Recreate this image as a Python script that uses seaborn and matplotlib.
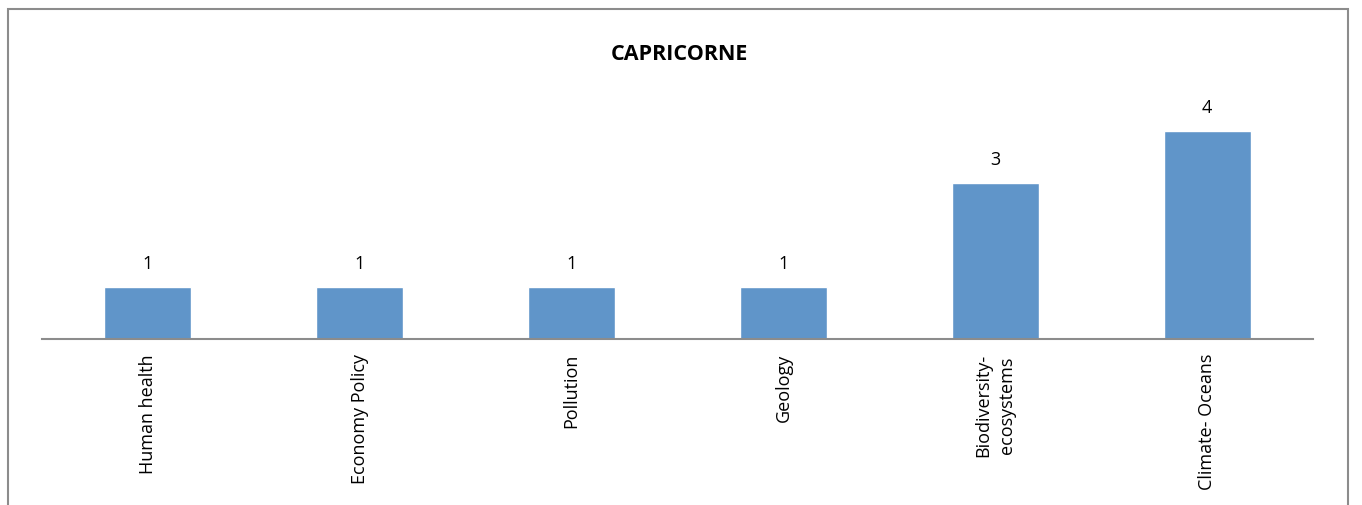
import matplotlib
matplotlib.use("Agg")
import matplotlib.pyplot as plt
import matplotlib.patches as mpatches
import pandas as pd
import seaborn as sns

# --------------------------- data ---------------------------
categories = ["Human health", "Economy Policy", "Pollution", "Geology",
              "Biodiversity-\necosystems", "Climate- Oceans"]
counts = [1, 1, 1, 1, 3, 4]
title = "CAPRICORNE"

BAR_COLOR = "#6095C9"
EDGE_GRAY = "#8C8C8C"

sns.set_style("white")
plt.rcParams["font.family"] = ["Open Sans", "DejaVu Sans"]
plt.rcParams["text.color"] = "black"
plt.rcParams["xtick.color"] = "black"

df = pd.DataFrame({"category": categories, "count": counts})

fig = plt.figure(figsize=(13.62, 5.06), dpi=100)
ax = fig.add_axes([42 / 1362, 1 - 340 / 506, (1313 - 42) / 1362, 240 / 506])

sns.barplot(data=df, x="category", y="count", color=BAR_COLOR,
            width=0.41, saturation=1, ax=ax)
ax.set_ylim(0, 240 / 52)
ax.set_xlim(-0.5, len(categories) - 0.5)

for c in ax.containers:
    ax.bar_label(c, labels=[str(v) for v in counts], padding=11,
                 fontsize=13, color="black")

ax.set_xlabel(""); ax.set_ylabel("")
ax.set_yticks([])
ax.tick_params(axis="x", length=0, pad=10, labelsize=13, labelrotation=90)
for lbl in ax.get_xticklabels():
    lbl.set_linespacing(1.45)
for s in ("left", "top", "right"):
    ax.spines[s].set_visible(False)
ax.spines["bottom"].set_color(EDGE_GRAY)
ax.spines["bottom"].set_linewidth(1.5)

fig.text((608 + 750) / 2 / 1362, 1 - 55 / 506, title, ha="center", va="center",
         fontsize=15.5, fontweight="bold")

# chart-area frame, open at the bottom edge of the picture
frame = mpatches.Rectangle((8 / 1362, -0.05), 1340 / 1362, 1.05 - 10 / 506,
                           transform=fig.transFigure, fill=False,
                           edgecolor=EDGE_GRAY, linewidth=1.5)
fig.patches.append(frame)

fig.savefig("out.png", dpi=100)
